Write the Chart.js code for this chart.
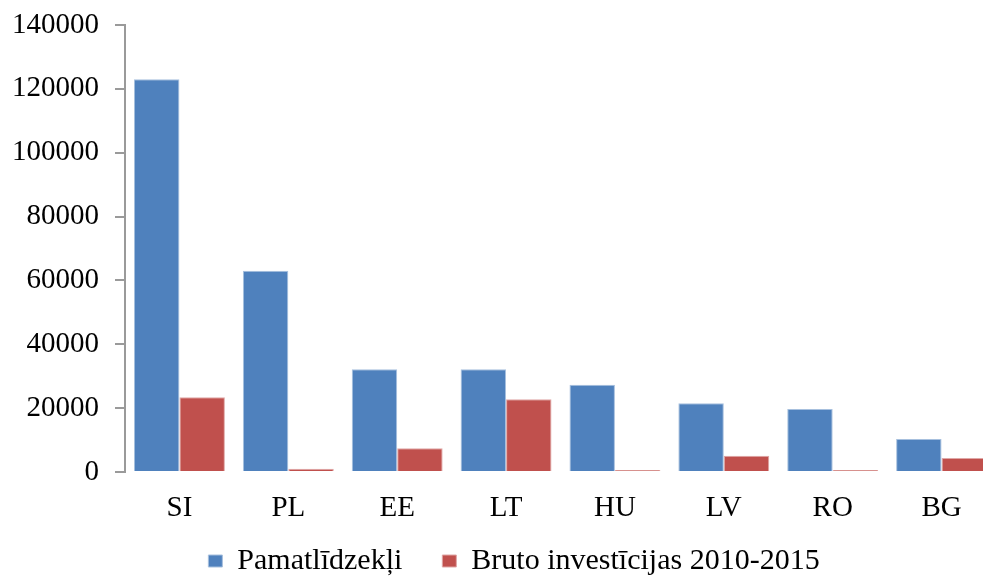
<!DOCTYPE html>
<html>
<head>
<meta charset="utf-8">
<script src="https://cdn.jsdelivr.net/npm/chart.js@4/dist/chart.umd.min.js"></script>
<style>
  html, body { margin: 0; padding: 0; background: #fff; overflow: hidden; }
  #wrap { width: 1000px; height: 576px; margin-left: -4px; }
</style>
</head>
<body>
<div id="wrap"><canvas id="chart"></canvas></div>
<script>
const countries = ["SI", "PL", "EE", "LT", "HU", "LV", "RO", "BG"];
const fixedAssets = [123000, 63000, 32200, 32200, 27300, 21500, 19700, 10300];
const grossInvest = [23400, 1000, 7400, 22800, 600, 5100, 600, 4400];
const yTicks = [0, 20000, 40000, 60000, 80000, 100000, 120000, 140000];

const serif = "'Liberation Serif', 'Times New Roman', serif";

// legend sits slightly right of centre; x labels may run into the legend band
const layoutTweaks = {
  id: "layoutTweaks",
  afterLayout(chart) {
    chart.legend.left += 18;
    chart.legend.right += 18;
    chart.scales.x.bottom = chart.height;
  },
};

const config = {
  type: "bar",
  data: {
    labels: countries,
    datasets: [
      {
        label: "Pamatlīdzekļi",
        data: fixedAssets,
        backgroundColor: "#4F81BD",
        borderColor: "#A7C0DE",
        borderWidth: 1,
      },
      {
        label: "Bruto investīcijas 2010-2015",
        data: grossInvest,
        backgroundColor: "#C0504D",
        borderColor: "#DFA7A6",
        borderWidth: 1,
      },
    ],
  },
  options: {
    responsive: true,
    maintainAspectRatio: false,
    animation: false,
    layout: {
      padding: 0,
    },
    datasets: {
      bar: { categoryPercentage: 0.835, barPercentage: 1.0 },
    },
    plugins: {
      legend: {
        position: "bottom",
        maxHeight: 70,
        labels: {
          font: { family: serif, size: 30 },
          color: "#000",
          boxWidth: 14,
          boxHeight: 12,
          padding: 40,
        },
      },
      tooltip: { enabled: false },
    },
    scales: {
      y: {
        min: 0,
        max: 140000,
        afterBuildTicks: (axis) => {
          axis.ticks = yTicks.map((v) => ({ value: v }));
        },
        afterFit: (scale) => {
          scale.paddingTop = 25;
        },
        grid: {
          drawOnChartArea: false,
          color: "#9a9a9a",
          tickLength: 10,
          lineWidth: 2,
        },
        border: { display: true, color: "#9a9a9a", width: 2 },
        ticks: {
          font: { family: serif, size: 29 },
          color: "#000",
          padding: 16,
          callback: (v) => String(v),
        },
      },
      x: {
        afterFit: (scale) => {
          scale.height = 34;
        },
        grid: { display: false },
        border: { display: false },
        ticks: {
          font: { family: serif, size: 29 },
          color: "#000",
          padding: 11,
        },
      },
    },
  },
  plugins: [layoutTweaks],
};

new Chart(document.getElementById("chart").getContext("2d"), config);
</script>
</body>
</html>
